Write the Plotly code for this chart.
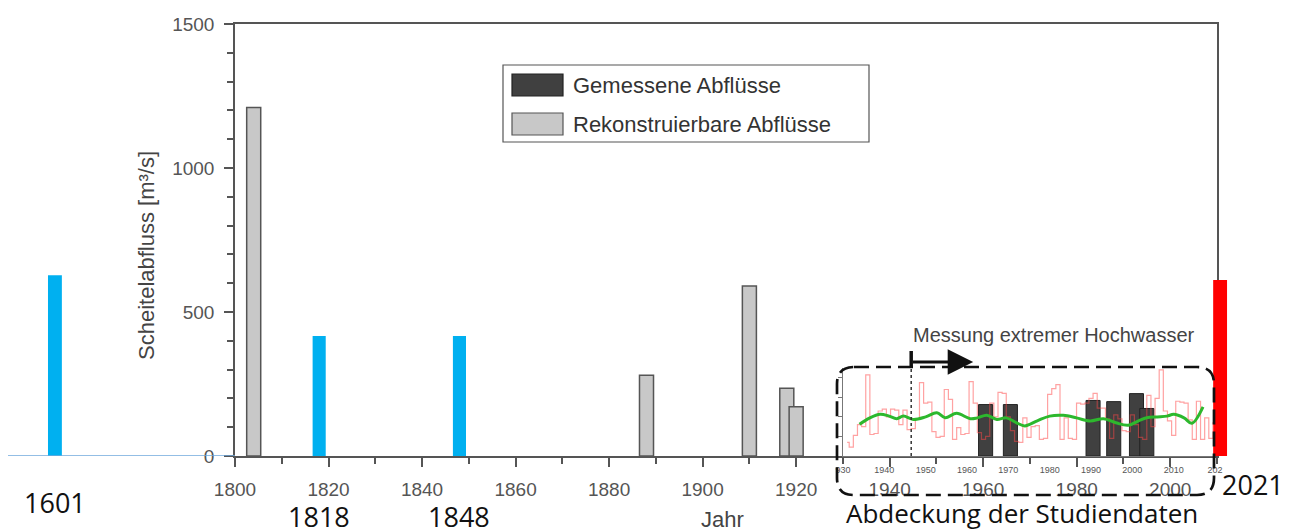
import plotly.graph_objects as go

W, H = 1300, 531

# reconstructed peak discharges (grey bars), m3/s
rekon_years = [1804, 1888, 1910, 1918, 1920]
rekon_q = [1210, 280, 590, 235, 171]

# historic floods marked in blue, 2021 in red
hist_years = [1818, 1848]
hist_q = [417, 417]
early_year = [1601]
early_q = [628]
recent_year = [2021]
recent_q = [611]

# inset with the study data
inset_years = list(range(1931, 2021))
inset_annual = [
    70, 45, 105, 160, 150, 415, 110, 115, 230, 240,
    200, 240, 235, 160, 235, 135, 140, 190, 375, 270,
    275, 125, 95, 100, 340, 290, 85, 145, 110, 115,
    380, 270, 120, 85, 100, 270, 200, 325, 320, 200,
    130, 75, 70, 195, 95, 150, 155, 85, 90, 315,
    345, 365, 85, 195, 90, 85, 270, 265, 270, 295,
    320, 245, 245, 190, 90, 210, 190, 130, 125, 210,
    160, 95, 85, 310, 150, 295, 440, 230, 180, 105,
    280, 275, 270, 185, 85, 280, 85, 195, 90, 170,
]
smooth_years = [1934, 1936.5, 1939, 1941, 1943, 1944.6, 1947, 1950, 1952.7, 1954.7,
                1957.5, 1960.8, 1962.5, 1964.8, 1967.2, 1969.5, 1972, 1974, 1977, 1980,
                1983.3, 1986.5, 1989.8, 1993, 1996, 1999, 2001.5, 2003.5, 2006, 2008.4,
                2010, 2012.5, 2014.4, 2017.1]
smooth_vals = [162, 195, 213, 205, 191, 204, 187, 200, 221, 196,
               218, 191, 195, 208, 187, 195, 170, 154, 180, 204,
               208, 195, 179, 191, 170, 157, 180, 196, 200, 204,
               213, 195, 167, 251]
gemessen_years = [1964.5, 1970.5, 1990.5, 1995.5, 2001, 2003.5]
gemessen_q = [263, 263, 284, 278, 319, 243]
messung_start = 1946.5

x_ticks = list(range(1800, 2001, 20))
y_ticks = [0, 500, 1000, 1500]
inset_ticks = list(range(1930, 2021, 10))
inset_ticktext = ["930"] + [str(t) for t in inset_ticks[1:-1]] + ["202"]


def px(x):
    return x / W


def py(y):
    return 1 - y / H


axis_col = "#555555"
font_main = "Liberation Sans"
font_big = "Open Sans"

fig = go.Figure()

# main chart
fig.add_trace(go.Bar(x=rekon_years, y=rekon_q, width=3,
                     marker=dict(color="#c8c8c8", line=dict(color="#555555", width=1.5)),
                     xaxis="x", yaxis="y"))
fig.add_trace(go.Bar(x=hist_years, y=hist_q, width=2.8,
                     marker=dict(color="#00b0f0", line=dict(width=0)),
                     xaxis="x", yaxis="y"))

# full width layer for 1601 and 2021
fig.add_trace(go.Bar(x=early_year, y=early_q, width=5,
                     marker=dict(color="#00b0f0", line=dict(width=0)),
                     xaxis="x2", yaxis="y2"))
fig.add_trace(go.Bar(x=recent_year, y=recent_q, width=5,
                     marker=dict(color="#ff0000", line=dict(width=0)),
                     xaxis="x2", yaxis="y2"))

# inset
fig.add_trace(go.Bar(x=gemessen_years, y=gemessen_q, width=3.4,
                     marker=dict(color="#404040", line=dict(color="#222222", width=1)),
                     xaxis="x3", yaxis="y3"))
fig.add_trace(go.Scatter(x=inset_years, y=inset_annual, mode="lines",
                         line=dict(shape="hvh", color="rgba(255,70,70,0.5)", width=1.2),
                         xaxis="x3", yaxis="y3"))
fig.add_trace(go.Scatter(x=smooth_years, y=smooth_vals, mode="lines",
                         line=dict(shape="spline", smoothing=1, color="#2db82d", width=3),
                         xaxis="x3", yaxis="y3"))

tickfont = dict(family=font_main, size=19, color=axis_col)

fig.update_layout(
    width=W, height=H,
    margin=dict(l=0, r=0, t=0, b=0, autoexpand=False),
    paper_bgcolor="white",
    plot_bgcolor="rgba(0,0,0,0)",
    showlegend=False,
    barmode="overlay",
    xaxis=dict(domain=[px(235), px(1217)], range=[1800, 2010], anchor="y", automargin=False,
               tickmode="array", tickvals=x_ticks,
               ticks="outside", ticklen=9, tickwidth=1.5, tickcolor=axis_col,
               minor=dict(tick0=1800, dtick=10, ticks="outside", ticklen=6,
                          tickwidth=1.5, tickcolor=axis_col, showgrid=False),
               showline=True, linecolor=axis_col, linewidth=1.5, mirror=True,
               showgrid=False, zeroline=False, tickfont=tickfont, ticklabelstandoff=6),
    yaxis=dict(domain=[py(456), py(24)], range=[0, 1500], anchor="x", automargin=False,
               tickmode="array", tickvals=y_ticks,
               ticks="outside", ticklen=9, tickwidth=1.5, tickcolor=axis_col,
               minor=dict(tick0=0, dtick=100, ticks="outside", ticklen=6,
                          tickwidth=1.5, tickcolor=axis_col, showgrid=False),
               showline=True, linecolor=axis_col, linewidth=1.5, mirror=True,
               showgrid=False, zeroline=False, tickfont=tickfont, ticklabelstandoff=6),
    xaxis2=dict(domain=[0, 1], range=[1581.2, 2049.8], anchor="y2", visible=False,
                automargin=False),
    yaxis2=dict(domain=[py(456), py(24)], range=[0, 1500], anchor="x2", visible=False,
                automargin=False),
    xaxis3=dict(domain=[px(843), px(1215)], range=[1930, 2020], anchor="y3", automargin=False,
                tickmode="array", tickvals=inset_ticks, ticktext=inset_ticktext,
                ticks="", showline=True, linecolor="#777777", linewidth=1,
                showgrid=False, zeroline=False, ticklabelstandoff=5,
                tickfont=dict(family=font_main, size=9, color="#555555")),
    yaxis3=dict(domain=[py(456), py(368)], range=[0, 450], anchor="x3", automargin=False,
                tickmode="array", tickvals=[100, 200, 300, 400], showticklabels=False,
                ticks="outside", ticklen=4, tickwidth=1, tickcolor="#777777",
                showline=True, linecolor="#777777", linewidth=1,
                showgrid=False, zeroline=False),
)

shapes = []
# light blue baseline left of the axis
shapes.append(dict(type="line", xref="paper", yref="y", x0=px(8), x1=px(235), y0=0, y1=0,
                   line=dict(color="#6fa8dc", width=1.5)))
# start of the measurement series
shapes.append(dict(type="line", xref="x3", yref="paper", x0=messung_start, x1=messung_start,
                   y0=py(456), y1=py(366), line=dict(color="#333333", width=1.5, dash="dot")))
shapes.append(dict(type="line", xref="x3", yref="paper", x0=messung_start, x1=messung_start,
                   y0=py(367), y1=py(351), line=dict(color="#111111", width=3.5)))

# dashed rounded frame around the study period
L, R, T, B, r = 837, 1214, 367, 495, 17
rx, ry = r / W, r / H
x0, x1, y0, y1 = px(L), px(R), py(T), py(B)
path = (f"M {x0 + rx},{y0} L {x1 - rx},{y0} Q {x1},{y0} {x1},{y0 - ry} "
        f"L {x1},{y1 + ry} Q {x1},{y1} {x1 - rx},{y1} "
        f"L {x0 + rx},{y1} Q {x0},{y1} {x0},{y1 + ry} "
        f"L {x0},{y0 - ry} Q {x0},{y0} {x0 + rx},{y0} Z")
shapes.append(dict(type="path", xref="paper", yref="paper", path=path,
                   line=dict(color="#111111", width=2.7, dash="15px,7px")))

# legend box
shapes.append(dict(type="rect", xref="paper", yref="paper",
                   x0=px(503), x1=px(869), y0=py(65), y1=py(142),
                   line=dict(color="#555555", width=1.2), fillcolor="white", layer="below"))
shapes.append(dict(type="rect", xref="paper", yref="paper",
                   x0=px(512), x1=px(563), y0=py(74), y1=py(96),
                   line=dict(color="#222222", width=1.2), fillcolor="#404040"))
shapes.append(dict(type="rect", xref="paper", yref="paper",
                   x0=px(512), x1=px(563), y0=py(113), y1=py(135),
                   line=dict(color="#555555", width=1.2), fillcolor="#c8c8c8"))
fig.update_layout(shapes=shapes)

ann = []
ann.append(dict(text="Gemessene Abflüsse", xref="paper", yref="paper", x=px(571), y=py(85),
                xanchor="left", yanchor="middle", showarrow=False,
                font=dict(family=font_main, size=22, color="#333333")))
ann.append(dict(text="Rekonstruierbare Abflüsse", xref="paper", yref="paper", x=px(571), y=py(124),
                xanchor="left", yanchor="middle", showarrow=False,
                font=dict(family=font_main, size=22, color="#333333")))
ann.append(dict(text="Scheitelabfluss [m³/s]", xref="paper", yref="paper", x=px(147), y=py(256),
                xanchor="center", yanchor="middle", textangle=-90, showarrow=False,
                font=dict(family=font_main, size=22, color="#444444")))
ann.append(dict(text="Jahr", xref="paper", yref="paper", x=px(723), y=py(519),
                xanchor="center", yanchor="middle", showarrow=False,
                font=dict(family=font_main, size=22, color="#444444")))
ann.append(dict(text="Messung extremer Hochwasser", xref="x3", yref="paper", x=messung_start, y=py(335),
                xanchor="left", yanchor="middle", showarrow=False,
                font=dict(family=font_main, size=20, color="#444444")))
ann.append(dict(text="", xref="x3", yref="paper", x=messung_start + 15, y=py(362),
                axref="x3", ax=messung_start, ay=0, showarrow=True,
                arrowhead=2, arrowsize=1.7, arrowwidth=3, arrowcolor="#111111"))

big = dict(family=font_big, size=27, color="#111111")
ann.append(dict(text=str(early_year[0]), xref="x2", yref="paper", x=early_year[0], y=py(502),
                xanchor="center", yanchor="middle", showarrow=False, font=big))
for yr in hist_years:
    ann.append(dict(text=str(yr), xref="x", yref="paper", x=yr, y=py(516),
                    xanchor="center", yanchor="middle", showarrow=False, font=big))
ann.append(dict(text=str(recent_year[0]), xref="paper", yref="paper", x=px(1253), y=py(484),
                xanchor="center", yanchor="middle", showarrow=False, font=big))
ann.append(dict(text="Abdeckung der Studiendaten", xref="paper", yref="paper", x=px(1022), y=py(513),
                xanchor="center", yanchor="middle", showarrow=False,
                font=dict(family=font_big, size=26, color="#111111")))
fig.update_layout(annotations=ann)

# the page body has a default 8px margin; drop it so the figure sits at the origin
fig.write_html("out.html", config={"displayModeBar": False},
               post_script="document.body.style.margin='0';document.body.style.overflow='hidden';")
